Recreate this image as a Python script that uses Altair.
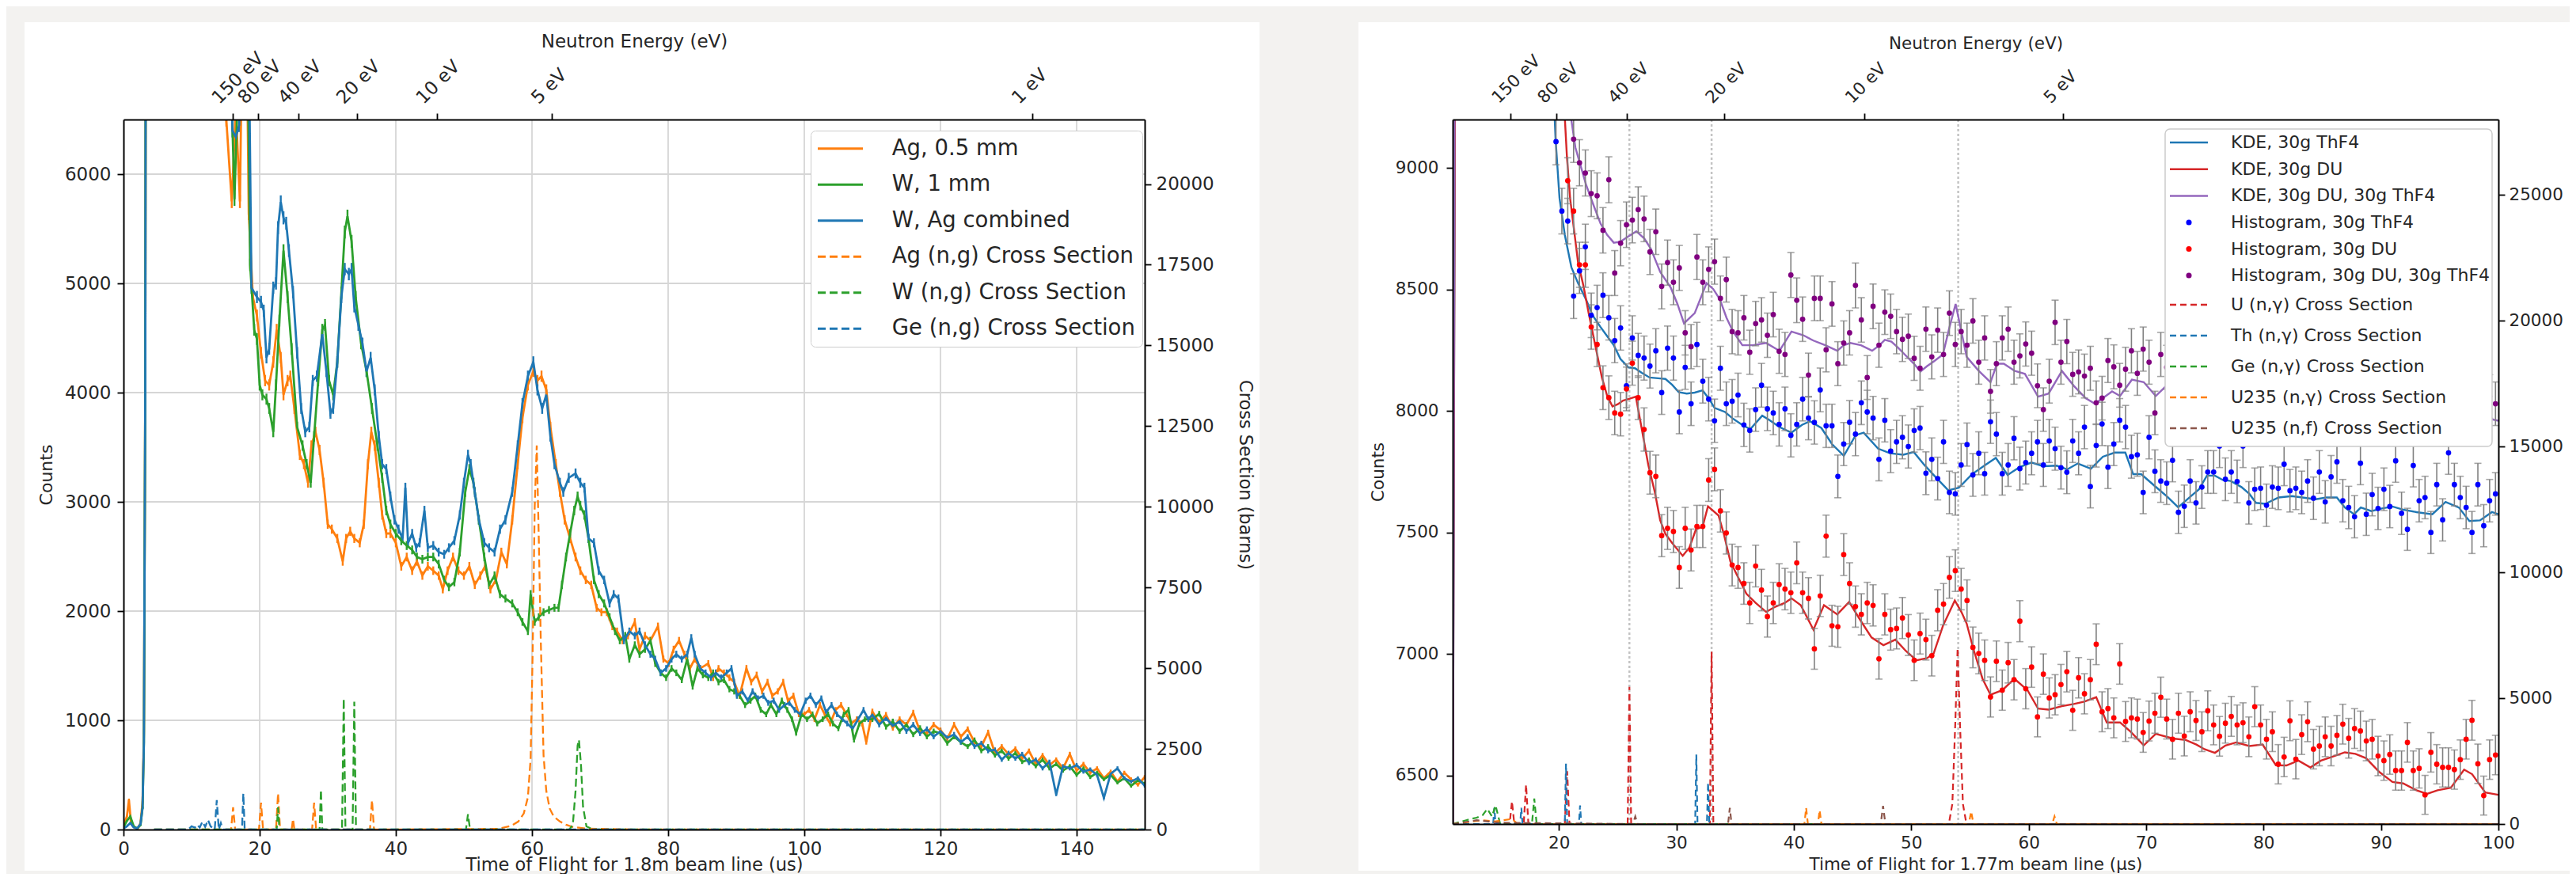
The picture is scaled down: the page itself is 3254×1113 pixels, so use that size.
import altair as alt
import pandas as pd

FONT = "DejaVu Sans"
INK = "#262626"

# ======================= LEFT PANEL DATA =======================
L_SERIES = ["Ag, 0.5 mm", "W, 1 mm", "W, Ag combined",
            "Ag (n,g) Cross Section", "W (n,g) Cross Section", "Ge (n,g) Cross Section"]
L_COLORS = ["#ff7f0e", "#2ca02c", "#1f77b4", "#ff7f0e", "#2ca02c", "#1f77b4"]
L_DASH = [[1, 0], [1, 0], [1, 0], [10, 5], [10, 5], [10, 5]]

AG_COUNTS = [(0.0, 40), (0.5, 120), (0.8, 270), (1.1, 60), (1.6, 20), (2.1, 10), (2.5, 60), (2.8, 250),
             (3.0, 900), (3.2, 4000), (3.5, 20000), (14.0, 20000), (14.5, 9000), (15.1, 6500), (15.9, 5750),
             (16.5, 6600), (17.1, 5750), (17.8, 9000), (18.4, 5640), (19.0, 4875), (19.6, 4705), (20.2, 4365),
             (20.8, 4110), (21.4, 4070), (22.0, 4280), (22.5, 4575), (23.1, 4320), (23.5, 3980), (24.1, 4110),
             (24.5, 4150), (25.1, 3855), (25.9, 3430), (26.5, 3345), (27.1, 3175), (27.6, 3515), (28.2, 3640),
             (28.8, 3475), (29.4, 3175), (30.0, 2795), (30.6, 2750), (31.4, 2665), (32.2, 2455), (32.7, 2665),
             (33.3, 2730), (33.9, 2665), (34.7, 2625), (35.3, 2795), (35.9, 3345), (36.4, 3640), (36.9, 3515),
             (37.5, 3175), (38.0, 2880), (38.6, 2710), (39.2, 2710), (40.0, 2625), (40.8, 2410), (41.6, 2495),
             (42.4, 2370), (43.1, 2455), (43.9, 2325), (44.7, 2410), (45.5, 2370), (46.3, 2325), (46.9, 2200),
             (47.6, 2370), (48.4, 2495), (49.2, 2370), (50.0, 2325), (50.8, 2410), (51.6, 2240), (52.4, 2325),
             (53.1, 2410), (53.9, 2200), (54.7, 2285), (55.5, 2540), (56.3, 2430), (57.1, 2835), (57.9, 3345),
             (58.6, 3770), (59.4, 4070), (60.2, 4195), (60.8, 4110), (61.4, 4150), (62.1, 4025), (62.7, 3685),
             (63.5, 3345), (64.1, 3090), (64.8, 2835), (65.6, 2665), (66.4, 2495), (67.1, 2370), (67.9, 2285),
             (68.7, 2240), (69.5, 2030), (70.2, 1990), (71.0, 1990), (71.8, 1860), (72.5, 1815), (73.3, 1730),
             (74.1, 1775), (75.1, 1900), (75.8, 1650), (76.6, 1775), (77.4, 1730), (78.5, 1860), (79.3, 1560),
             (80.1, 1520), (80.8, 1650), (81.6, 1730), (82.4, 1605), (83.2, 1475), (83.9, 1560), (84.7, 1475),
             (85.9, 1520), (86.6, 1390), (87.4, 1475), (88.2, 1435), (89.0, 1390), (89.7, 1350), (90.5, 1225),
             (91.5, 1475), (92.2, 1350), (93.0, 1415), (93.8, 1265), (94.6, 1350), (95.3, 1225), (96.1, 1265),
             (96.9, 1350), (97.6, 1180), (98.4, 1225), (99.2, 1055), (100.0, 1055), (100.7, 1095), (101.5, 1010),
             (102.3, 1140), (103.0, 1055), (103.8, 970), (104.6, 1095), (105.4, 1140), (106.2, 1055), (106.9, 970),
             (107.7, 1010), (108.5, 970), (109.1, 800)]

W_COUNTS = [(0.0, 20), (0.5, 80), (1.0, 120), (1.5, 30), (2.0, 10), (2.5, 40), (2.8, 200), (3.0, 800),
            (3.2, 4000), (3.5, 20000), (15.0, 20000), (15.3, 8000), (16.3, 5770), (17.4, 8000), (17.9, 9000),
            (18.6, 5170), (19.2, 4575), (19.6, 4490), (20.0, 4070), (20.4, 3980), (21.0, 3940), (21.4, 3855),
            (22.0, 3640), (22.4, 4070), (22.9, 4660), (23.5, 5300), (24.1, 4875), (24.7, 4400), (25.5, 3685),
            (26.3, 3515), (26.9, 3345), (27.5, 3175), (28.0, 3600), (28.6, 4110), (29.2, 4575), (29.6, 4620),
            (30.2, 4110), (30.8, 3980), (31.4, 4280), (32.0, 4915), (32.5, 5470), (32.9, 5615), (33.5, 5385),
            (34.1, 4875), (34.9, 4450), (35.7, 4195), (36.5, 3855), (37.3, 3515), (38.0, 3220), (38.6, 2920),
            (39.2, 2795), (40.0, 2710), (40.8, 2645), (41.6, 2600), (42.4, 2560), (43.1, 2495), (43.9, 2475),
            (44.7, 2495), (45.5, 2495), (46.3, 2430), (47.1, 2285), (47.8, 2220), (48.6, 2265), (49.4, 2540),
            (50.2, 3090), (50.8, 3300), (51.4, 3175), (52.2, 2835), (53.0, 2495), (53.7, 2240), (54.5, 2325),
            (55.3, 2155), (56.1, 2115), (57.1, 2070), (57.9, 1990), (58.6, 1900), (59.4, 1815), (59.8, 2155),
            (60.4, 1900), (61.0, 1945), (61.7, 1990), (62.5, 2010), (63.3, 2030), (63.9, 2030), (64.4, 2240),
            (65.0, 2495), (65.6, 2710), (66.2, 2920), (66.7, 3050), (67.1, 2965), (67.7, 2880), (68.3, 2665),
            (69.1, 2285), (69.8, 2155), (70.6, 2070), (71.4, 1945), (72.2, 1815), (72.9, 1730), (73.7, 1775),
            (74.3, 1560), (75.1, 1690), (75.8, 1605), (76.6, 1650), (77.4, 1730), (78.1, 1520), (78.9, 1435),
            (79.7, 1390), (80.5, 1475), (81.2, 1435), (82.0, 1370), (82.8, 1560), (83.6, 1310), (84.3, 1475),
            (85.1, 1415), (85.9, 1390), (86.6, 1435), (87.4, 1350), (88.2, 1370), (89.0, 1285), (89.7, 1265),
            (90.5, 1225), (91.3, 1140), (92.1, 1180), (92.8, 1225), (93.6, 1095), (94.4, 1055), (95.1, 1140),
            (95.9, 1055), (96.7, 1180), (97.5, 1095), (98.2, 1010), (98.8, 885), (99.6, 1055), (100.4, 1010),
            (101.2, 1055), (101.9, 970), (102.7, 1010), (103.5, 1055), (104.2, 970), (105.0, 925), (105.8, 1055),
            (106.5, 1095), (107.3, 820), (108.1, 970), (108.9, 1010)]

WAG_COUNTS = [(0.0, 10), (0.5, 30), (1.0, 60), (1.5, 20), (2.0, 10), (2.5, 50), (2.8, 200), (3.0, 800),
              (3.2, 4000), (3.5, 20000), (15.0, 20000), (15.6, 8000), (16.0, 6400), (16.5, 6340), (17.0, 6450),
              (17.5, 8500), (18.1, 9000), (18.8, 4960), (19.6, 4875), (20.2, 4830), (20.6, 4750), (21.0, 4320),
              (21.4, 4400), (22.0, 4960), (22.4, 5000), (22.7, 5510), (23.1, 5745), (23.5, 5600), (23.9, 5550),
              (24.3, 5300), (24.9, 4920), (25.5, 4365), (26.1, 3855), (26.7, 3640), (27.3, 3685), (27.8, 4110),
              (28.4, 4150), (29.2, 4535), (29.8, 4195), (30.4, 3810), (30.8, 3855), (31.4, 4280), (32.0, 4875),
              (32.5, 5130), (33.1, 5085), (33.5, 5130), (33.9, 4790), (34.5, 4620), (35.1, 4450), (35.7, 4195),
              (36.3, 4320), (36.9, 4025), (37.5, 3600), (38.0, 3345), (38.6, 3300), (39.2, 3050), (39.8, 2835),
              (40.4, 2750), (41.0, 2665), (41.4, 3130), (41.8, 2625), (42.4, 2710), (43.0, 2580), (43.5, 2625),
              (44.2, 2920), (44.7, 2580), (45.5, 2600), (46.3, 2540), (47.1, 2520), (47.8, 2580), (48.6, 2645),
              (49.4, 2880), (50.0, 3175), (50.6, 3430), (51.0, 3345), (51.6, 3090), (52.2, 2835), (53.0, 2625),
              (53.7, 2580), (54.5, 2540), (55.3, 2750), (56.1, 2835), (57.1, 3090), (57.9, 3515), (58.6, 3900),
              (59.4, 4150), (60.2, 4280), (60.8, 4025), (61.5, 3855), (62.1, 3980), (62.7, 3600), (63.3, 3345),
              (64.1, 3175), (64.6, 3090), (65.4, 3220), (66.4, 3260), (67.1, 3175), (67.7, 3130), (68.3, 2665),
              (69.1, 2625), (69.8, 2370), (70.6, 2285), (71.4, 2070), (72.0, 2155), (72.7, 2115), (73.5, 1730),
              (74.3, 1815), (75.1, 1775), (75.8, 1815), (76.6, 1690), (77.4, 1605), (78.1, 1560), (78.9, 1435),
              (79.7, 1475), (80.5, 1560), (81.2, 1605), (82.0, 1560), (82.8, 1605), (83.4, 1755), (83.9, 1605),
              (84.7, 1475), (85.5, 1435), (86.3, 1390), (87.0, 1435), (87.8, 1390), (88.6, 1435), (89.3, 1475),
              (90.1, 1225), (90.9, 1265), (91.7, 1180), (92.4, 1265), (93.2, 1200), (94.0, 1225), (94.7, 1160),
              (95.5, 1180), (96.3, 1095), (97.1, 1140), (97.8, 1160), (98.6, 1095), (99.4, 1055), (100.2, 1180),
              (100.9, 1225), (101.7, 1140), (102.5, 1200), (103.2, 1075), (104.0, 1140), (104.8, 1055),
              (105.6, 1010), (106.3, 970), (107.1, 925), (107.9, 1010), (108.7, 1095), (109.4, 1010)]

TAIL_T = list(range(110, 151))
AG_TAIL = [1080, 980, 1050, 930, 1010, 960, 1070, 900, 880, 960, 910, 830, 960, 850, 920, 800, 760, 890, 700,
           760, 690, 740, 650, 720, 600, 680, 590, 640, 560, 690, 540, 600, 520, 560, 470, 530, 440, 520, 460,
           410, 480]
W_TAIL = [1010, 1060, 940, 990, 900, 960, 870, 930, 850, 900, 880, 790, 850, 800, 760, 820, 720, 760, 680, 720,
          650, 700, 620, 640, 580, 640, 560, 600, 540, 580, 500, 560, 480, 520, 460, 500, 430, 470, 400, 450, 420]
WAG_TAIL = [1050, 960, 1020, 950, 990, 900, 960, 880, 920, 850, 900, 840, 870, 800, 850, 760, 790, 720, 730, 640,
            700, 650, 690, 610, 640, 560, 620, 320, 580, 560, 590, 530, 550, 500, 290, 510, 560, 470, 440, 470, 400]

AG_XS = [(4.5, 0), (15.8, 0), (16.1, 690), (16.4, 0), (19.9, 0), (20.2, 830), (20.5, 0), (22.4, 0), (22.7, 1120),
         (23.0, 0), (24.7, 0), (24.9, 330), (25.1, 0), (27.7, 0), (28.0, 830), (28.3, 0), (36.2, 0), (36.5, 910),
         (36.8, 0), (55.0, 20), (57.0, 120), (58.0, 250), (58.8, 500), (59.4, 1000), (59.8, 2200), (60.1, 5500),
         (60.4, 10000), (60.7, 11900), (61.0, 9000), (61.3, 5800), (61.7, 2300), (62.1, 1200), (62.6, 650),
         (63.2, 400), (64.1, 250), (65.0, 150), (66.0, 80), (68.0, 30), (75.0, 0), (150.0, 0)]
W_XS = [(4.5, 0), (22.5, 0), (22.7, 690), (22.9, 0), (28.8, 0), (29.0, 1235), (29.2, 0), (32.1, 0), (32.35, 4060),
        (32.6, 0), (33.65, 0), (33.9, 3960), (34.15, 0), (50.3, 0), (50.6, 475), (50.9, 0), (65.5, 0), (66.0, 150),
        (66.4, 1200), (66.7, 2600), (66.9, 2780), (67.2, 2000), (67.5, 700), (68.0, 100), (69.0, 0), (150.0, 0)]
GE_XS = [(4.5, 0), (9.5, 0), (10.0, 100), (10.5, 60), (10.8, 150), (11.2, 60), (11.6, 250), (12.0, 80),
         (12.4, 300), (12.8, 100), (13.4, 0), (13.7, 910), (14.0, 0), (14.3, 200), (14.6, 0), (17.4, 0),
         (17.6, 1120), (17.8, 0), (150.0, 0)]

L_XTICKS = [0, 20, 40, 60, 80, 100, 120, 140]
L_YTICKS = [0, 1000, 2000, 3000, 4000, 5000, 6000]
L_Y2TICKS = [0, 2500, 5000, 7500, 10000, 12500, 15000, 17500, 20000]
E_LABELS = ["150 eV", "80 eV", "40 eV", "20 eV", "10 eV", "5 eV", "1 eV"]
E_POS_L = [16.0, 19.8, 25.7, 34.3, 46.0, 62.9, 133.5]

# ======================= RIGHT PANEL DATA =======================
KDE_NAMES = ["KDE, 30g ThF4", "KDE, 30g DU", "KDE, 30g DU, 30g ThF4"]
KDE_COLORS = ["#1f77b4", "#d62728", "#9467bd"]
HIST_NAMES = ["Histogram, 30g ThF4", "Histogram, 30g DU", "Histogram, 30g DU, 30g ThF4"]
HIST_COLORS = ["#0000ff", "#ff0000", "#800080"]
XS_NAMES = ["U (n,γ) Cross Section", "Th (n,γ) Cross Section", "Ge (n,γ) Cross Section",
            "U235 (n,γ) Cross Section", "U235 (n,f) Cross Section"]
XS_COLORS = ["#d62728", "#1f77b4", "#2ca02c", "#ff7f0e", "#8c564b"]
XS_DASH = [[8, 5], [8, 5], [8, 5], [8, 5], [8, 5]]

HIST_T0, HIST_STEP, HIST_N = 19.75, 0.5, 161

HIST_THF4 = [9109, 8823, 8782, 8473, 8577, 8676, 8394, 8426, 8477, 8384, 8290, 8342, 8104, 8301, 8229, 8218,
             8185, 8248, 8076, 8259, 8218, 7996, 8180, 8030, 8274, 8123, 8049, 7960, 8176, 8030, 8040, 8066,
             7943, 7920, 8006, 8106, 8009, 7992, 7945, 8009, 7900, 7945, 8049, 7971, 7953, 8087,
             7939, 7939, 7731, 7864, 7954, 7905, 8034, 7996, 7971, 7801, 7962, 7835, 7873, 7892, 7854, 7920,
             7930, 7744, 7801, 7722, 7873, 7665, 7659, 7778, 7862, 7737, 7826, 7742, 7956, 7905, 7742, 7778,
             7888, 7763, 7788, 7826, 7873, 7778, 7877, 7845, 7767, 7748, 7877, 7826, 7934, 7689, 7858, 7947,
             7769, 7864, 7962, 7934, 7812, 7820, 7665, 7892, 7752, 7712, 7703, 7797, 7583, 7608,
             7712, 7622, 7687, 7749, 7749, 7856, 7719, 7749, 7710, 7856, 7622, 7678, 7682, 7612, 7687, 7682,
             7781, 7672, 7682, 7665, 7712, 7641, 7749, 7626, 7729, 7791, 7631, 7603, 7565, 7785, 7575, 7656,
             7599, 7678, 7607, 7795, 7579, 7513, 7776, 7631, 7644, 7500, 7697, 7552, 7828, 7697, 7644, 7603,
             7500, 7697, 7528, 7631, 7659]
HIST_DU = [9750, 9350,
           8948, 8823, 8602, 8602, 8346, 8274, 8096, 8055, 7992, 7987, 8091, 8197, 8055, 7924, 7746, 7731,
           7487, 7517, 7504, 7356, 7517, 7428, 7525, 7525, 7716, 7760, 7589, 7498, 7366, 7356, 7290, 7210,
           7362, 7263, 7154, 7210, 7286, 7267, 7252, 7375, 7252, 7229, 7021, 7239,
           7485, 7116, 7112, 7409, 7290, 7195, 7163, 7210, 7200, 6980, 7163, 7100, 7105, 7148, 7078, 6974,
           7084, 7059, 6993, 7180, 7205, 7315, 7343, 7267, 7220, 7027, 7002, 6974, 6823, 6970, 6851, 6964,
           6894, 7135, 6857, 6946, 6741, 6917, 6819, 6832, 6874, 6927, 6768, 6902, 6836, 6894, 7040, 6762,
           6775, 6737, 6959, 6722, 6737, 6732, 6677, 6724, 6756, 6822, 6732, 6649, 6756, 6662,
           6762, 6726, 6680, 6766, 6708, 6661, 6715, 6743, 6708, 6717, 6659, 6783, 6708, 6649, 6680, 6546,
           6576, 6725, 6567, 6668, 6721, 6608, 6621, 6659, 6621, 6665, 6711, 6653, 6693, 6683, 6642, 6649,
           6580, 6561, 6586, 6520, 6520, 6636, 6520, 6529, 6420, 6595, 6546, 6533, 6533, 6524, 6565, 6649,
           6727, 6548, 6417, 6565, 6584]
HIST_BOTH = [9600, 9450, 9300,
             9119, 9022, 8980, 8895, 8886, 8744, 8952, 8568, 8691, 8767, 8786, 8829, 8791, 8655, 8738, 8513,
             8611, 8530, 8589, 8322, 8265, 8634, 8530, 8583, 8615, 8464, 8541, 8327, 8322, 8384, 8242, 8360,
             8375, 8312, 8397, 8246, 8233, 8560, 8456, 8378, 8148, 8464, 8464,
             8252, 8441, 8195, 8280, 8322, 8517, 8375, 8138, 8431, 8271, 8407, 8390, 8327, 8295, 8308, 8217,
             8176, 8337, 8223, 8333, 8233, 8403, 8274, 8327, 8271, 8371, 8201, 8301, 8081, 8195, 8301, 8337,
             8201, 8227, 8276, 8238, 8104, 8006, 8123, 8365, 8201, 8286, 8151, 8161, 8144, 8176, 8034, 8053,
             8208, 8182, 8106, 8172, 8248, 8155, 8255, 8201, 7992, 8233,
             8180, 8120, 8210, 8090, 8150, 8230, 8060, 8140, 8110, 8190, 8050, 8130, 8170, 8080, 8120, 8060,
             8150, 8100, 8020, 8130, 8090, 8160, 8050, 8080, 8120, 8010, 8100, 8070, 8140, 8030, 8090, 8060,
             7990, 8110, 8040, 8080, 8000, 8120, 8050, 8020, 8090, 7980, 8060, 8030, 8100, 7990, 8050, 8070,
             7970, 8040, 8010, 8080, 7960, 8030, 8000, 8060, 8030]

KDE_THF4 = [(10.95, 6000), (11.3, 12000), (18.8, 10500), (19.3, 9600), (19.71, 9122), (20.05, 8876),
            (20.5, 8725), (21.06, 8592), (21.63, 8526), (22.3, 8460), (22.87, 8394), (23.54, 8346), (24.11, 8308),
            (24.67, 8271), (25.24, 8214), (25.92, 8180), (26.48, 8176), (27.05, 8157), (27.72, 8138),
            (28.62, 8134), (29.07, 8132), (29.64, 8108), (30.2, 8078), (30.88, 8072), (31.56, 8076),
            (32.23, 8085), (32.8, 8049), (33.25, 8013), (34.15, 7996), (34.83, 7968), (35.73, 7939), (36.3, 7926),
            (37.31, 7981), (37.88, 7964), (38.78, 7934), (39.8, 7911), (40.7, 7943), (41.38, 7958), (42.35, 7930),
            (43.25, 7864), (44.26, 7816), (45.27, 7901), (45.95, 7911), (47.18, 7845), (48.2, 7826),
            (49.32, 7820), (50.22, 7831), (51.12, 7778), (52.02, 7731), (53.15, 7674), (54.05, 7684),
            (55.17, 7740), (56.3, 7778), (57.2, 7807), (58.21, 7737), (59.23, 7769), (60.24, 7788), (61.25, 7773),
            (62.38, 7775), (63.28, 7760), (64.18, 7784), (65.3, 7763), (66.32, 7812), (67.33, 7829),
            (68.23, 7829), (68.9, 7740), (69.58, 7740), (70.7, 7693), (71.83, 7646), (72.73, 7604), (73.83, 7650),
            (74.5, 7678), (75.18, 7734), (75.86, 7734), (76.54, 7716), (77.21, 7712), (78.12, 7687),
            (78.79, 7659), (79.36, 7622), (80.15, 7618), (81.28, 7644), (82.41, 7650), (83.31, 7644),
            (84.44, 7637), (85.34, 7644), (86.24, 7644), (86.92, 7603), (87.71, 7575), (88.28, 7603),
            (89.18, 7588), (90.08, 7599), (90.98, 7607), (91.89, 7594), (93.02, 7584), (94.37, 7575),
            (95.5, 7626), (96.63, 7603), (97.53, 7547), (98.43, 7550), (99.45, 7584), (100.0, 7575)]
KDE_DU = [(10.95, 6000), (11.3, 12000), (19.8, 10500), (20.5, 9208), (20.68, 9047), (20.95, 8876), (21.29, 8744),
          (21.63, 8611), (22.08, 8517), (22.53, 8403), (23.09, 8271), (23.66, 8138), (24.11, 8062), (24.56, 8019),
          (25.01, 8028), (25.46, 8043), (26.03, 8051), (26.55, 8059), (27.04, 7930), (27.61, 7778), (28.17, 7665),
          (28.62, 7551), (29.07, 7494), (29.64, 7457), (30.54, 7404), (31.11, 7438), (31.67, 7513), (32.23, 7523),
          (32.69, 7608), (33.59, 7570), (34.04, 7494), (34.6, 7381), (35.17, 7324), (35.96, 7248), (36.75, 7210),
          (37.65, 7173), (38.33, 7192), (39.23, 7210), (39.8, 7229), (40.59, 7201), (41.67, 7100), (42.57, 7201),
          (43.7, 7163), (44.71, 7214), (45.72, 7135), (46.62, 7068), (47.63, 7036), (48.65, 7059), (49.55, 7012),
          (50.45, 6974), (51.35, 6983), (51.91, 7002), (52.7, 7116), (53.71, 7220), (54.27, 7173), (54.72, 7125),
          (55.29, 7021), (56.07, 6898), (56.75, 6832), (57.76, 6851), (58.78, 6898), (59.9, 6851), (60.8, 6775),
          (61.7, 6771), (62.83, 6785), (63.84, 6794), (64.74, 6804), (65.75, 6822), (66.65, 6718), (67.78, 6718),
          (68.68, 6680), (69.8, 6624), (70.82, 6671), (72.28, 6652), (73.38, 6646), (74.28, 6627), (74.96, 6608),
          (75.86, 6593), (76.76, 6623), (77.67, 6636), (78.79, 6621), (79.92, 6627), (81.05, 6542), (81.95, 6541),
          (82.97, 6561), (83.99, 6533), (84.89, 6561), (85.79, 6576), (86.92, 6595), (87.82, 6589), (88.73, 6571),
          (89.86, 6514), (90.98, 6473), (91.89, 6467), (93.02, 6439), (93.92, 6424), (94.82, 6439), (95.95, 6449),
          (97.08, 6524), (97.76, 6505), (98.88, 6430), (100.0, 6420)]
KDE_BOTH = [(10.95, 6000), (11.25, 12000), (20.5, 10000), (21.06, 9198), (21.4, 9085), (21.85, 9009),
            (22.3, 8933), (22.87, 8857), (23.54, 8772), (24.11, 8725), (24.67, 8693), (25.24, 8697), (25.8, 8715),
            (26.59, 8740), (27.27, 8710), (27.83, 8668), (28.62, 8573), (29.53, 8507), (30.09, 8441),
            (30.65, 8361), (31.56, 8403), (32.57, 8526), (33.14, 8502), (33.7, 8460), (34.27, 8384), (34.83, 8327),
            (35.62, 8271), (36.52, 8271), (37.65, 8280), (38.78, 8248), (39.8, 8327), (40.81, 8312), (41.67, 8290),
            (42.68, 8271), (43.7, 8248), (44.26, 8271), (44.82, 8280), (45.72, 8271), (46.67, 8248), (47.3, 8271),
            (47.75, 8293), (48.31, 8286), (48.87, 8261), (49.44, 8233), (50.22, 8195), (50.79, 8163),
            (51.35, 8185), (51.91, 8204), (52.7, 8233), (53.26, 8346), (53.78, 8441), (54.27, 8327), (54.72, 8223),
            (55.74, 8166), (56.75, 8119), (57.31, 8195), (57.88, 8195), (58.78, 8166), (59.68, 8153), (60.8, 8059),
            (61.7, 8072), (62.83, 8165), (63.84, 8104), (64.85, 8053), (65.64, 8030), (66.31, 8053), (67.1, 8081),
            (67.78, 8062), (68.79, 8129), (69.8, 8119), (70.82, 8062), (71.72, 8104), (73.0, 8120), (75.0, 8150),
            (77.0, 8110), (79.0, 8130), (81.0, 8090), (83.0, 8110), (85.0, 8080), (87.0, 8060), (89.0, 8070),
            (91.0, 8040), (93.0, 8050), (95.0, 8010), (97.0, 8020), (99.0, 7970), (100.0, 7960)]

U_XS = [(10.95, 0), (15.8, 0), (16.0, 900), (16.2, 0), (17.0, 0), (17.2, 1560), (17.4, 0), (20.5, 0), (20.7, 2100),
        (20.9, 0), (25.85, 0), (26.0, 5450), (26.15, 0), (32.85, 0), (33.0, 6850), (33.15, 0), (53.2, 0),
        (53.5, 800), (53.75, 4000), (53.95, 7000), (54.15, 4000), (54.4, 800), (54.7, 0), (100.0, 0)]
TH_XS = [(10.95, 0), (14.4, 0), (14.5, 640), (14.6, 0), (16.7, 0), (16.8, 640), (16.9, 0), (20.5, 0), (20.6, 2400),
         (20.7, 0), (21.7, 0), (21.8, 740), (21.9, 0), (31.6, 0), (31.7, 2760), (31.8, 0), (32.6, 0), (32.7, 1650),
         (32.8, 0), (100.0, 0)]
GE_XS_R = [(10.95, 0), (11.7, 100), (12.1, 150), (12.5, 200), (13.0, 250), (13.5, 350), (13.9, 600), (14.3, 300),
           (14.6, 740), (15.0, 0), (17.7, 0), (17.9, 1010), (18.1, 0), (100.0, 0)]
U5G_XS = [(10.95, 0), (13.5, 150), (14.5, 100), (16.0, 200), (16.5, 0), (40.9, 0), (41.05, 640), (41.2, 0),
          (42.05, 0), (42.2, 550), (42.35, 0), (54.9, 0), (55.1, 500), (55.3, 0), (62.0, 0), (62.2, 300),
          (62.4, 0), (100.0, 0)]
U5F_XS = [(10.95, 0), (13.0, 150), (14.0, 100), (15.0, 50), (26.3, 0), (26.5, 300), (26.7, 0), (34.4, 0),
          (34.55, 640), (34.7, 0), (47.4, 0), (47.6, 720), (47.8, 0), (100.0, 0)]

R_XTICKS = [20, 30, 40, 50, 60, 70, 80, 90, 100]
R_YTICKS = [6500, 7000, 7500, 8000, 8500, 9000]
R_Y2TICKS = [0, 5000, 10000, 15000, 20000, 25000]
E_POS_R = [15.9, 19.8, 25.8, 34.1, 46.0, 62.9]
VLINES_R = [26.0, 33.0, 54.0]


# ======================= helpers =======================
def long_df(named):
    rows = []
    for name, pts in named:
        for t, v in pts:
            rows.append({"series": name, "t": t, "v": v})
    return pd.DataFrame(rows)


def sc(dom):
    return alt.Scale(domain=dom, nice=False, zero=False)


def label_expr(pos, labels):
    return ("[" + ",".join(repr(l) for l in labels) + "][indexof([" +
            ",".join(str(p) for p in pos) + "], datum.value)]")


def ax(**kw):
    base = dict(labelFont=FONT, titleFont=FONT, labelColor=INK, titleColor=INK, titleFontWeight="normal",
                tickColor="black", domainColor="black", domainWidth=2, tickWidth=1.8, tickSize=8, grid=False,
                zindex=1, labelOverlap=False, labelFlush=False)
    base.update(kw)
    return alt.Axis(**base)


one = pd.DataFrame({"k": [0]})

# ======================= LEFT PANEL =======================
LW, LH = 1290, 897
LXD, LYD, LY2D = [0, 150], [0, 6500], [0, 22000]

left_counts = long_df([
    (L_SERIES[0], AG_COUNTS + list(zip(TAIL_T, AG_TAIL))),
    (L_SERIES[1], W_COUNTS + list(zip(TAIL_T, W_TAIL))),
    (L_SERIES[2], WAG_COUNTS + list(zip(TAIL_T, WAG_TAIL))),
])
left_xs = long_df([(L_SERIES[3], AG_XS), (L_SERIES[4], W_XS), (L_SERIES[5], GE_XS)])

leg_left = alt.Legend(title=None, orient="none", legendX=868, legendY=14, padding=9, fillColor="white",
                      strokeColor="#cccccc", cornerRadius=6, labelFont=FONT, labelFontSize=27.5, labelColor=INK,
                      labelLimit=1000, symbolType="M-2.85,0H2.85", symbolSize=400, symbolStrokeWidth=3,
                      symbolOffset=14.75, labelOffset=51.5, rowPadding=16.5)

panel_L = alt.Chart(one).mark_rect(color="white").encode(
    x=alt.value(-125), x2=alt.value(1435), y=alt.value(-123), y2=alt.value(949))
gridx_L = alt.Chart(pd.DataFrame({"g": L_XTICKS[1:]})).mark_rule(color="#d6d6d6", strokeWidth=1.8).encode(
    x=alt.X("g:Q", scale=sc(LXD), axis=None))
gridy_L = alt.Chart(pd.DataFrame({"g": L_YTICKS[1:]})).mark_rule(color="#d6d6d6", strokeWidth=1.8).encode(
    y=alt.Y("g:Q", scale=sc(LYD), axis=None))

# small Poisson error ticks on the count traces (drawn like matplotlib errorbar lines)
errs_L = alt.Chart(left_counts).transform_filter("datum.v < 7000").transform_calculate(
    lo="datum.v - 0.8 * sqrt(datum.v)", hi="datum.v + 0.8 * sqrt(datum.v)").mark_rule(
    clip=True, strokeWidth=2.4).encode(
    x=alt.X("t:Q", scale=sc(LXD), axis=None),
    y=alt.Y("lo:Q", scale=sc(LYD), axis=None), y2="hi:Q",
    stroke=alt.Stroke("series:N", scale=alt.Scale(domain=L_SERIES[:3], range=L_COLORS[:3]), legend=None))

counts_L = alt.Chart(left_counts).mark_line(clip=True, strokeWidth=2.8).encode(
    x=alt.X("t:Q", scale=sc(LXD), axis=ax(orient="bottom", values=L_XTICKS, format="d",
                                          title="Time of Flight for 1.8m beam line (us)", labelFontSize=23,
                                          titleFontSize=22.5, labelPadding=5, titleY=44, titleBaseline="middle")),
    y=alt.Y("v:Q", scale=sc(LYD), axis=ax(orient="left", values=L_YTICKS, format="d", title="Counts",
                                          labelFontSize=23, titleFontSize=22, labelPadding=8, titleX=-98,
                                          titleBaseline="middle")),
    color=alt.Color("series:N", scale=alt.Scale(domain=L_SERIES, range=L_COLORS), legend=leg_left),
    strokeDash=alt.StrokeDash("series:N", scale=alt.Scale(domain=L_SERIES, range=L_DASH), legend=leg_left),
)
xs_L = alt.Chart(left_xs).mark_line(clip=True, strokeWidth=2.3).encode(
    x=alt.X("t:Q", scale=sc(LXD), axis=None),
    y=alt.Y("v:Q", scale=sc(LY2D), axis=ax(orient="right", values=L_Y2TICKS, format="d",
                                           title="Cross Section (barns)", labelFontSize=23, titleFontSize=22.5,
                                           labelPadding=6, titleX=126, titleBaseline="middle")),
    color=alt.Color("series:N", scale=alt.Scale(domain=L_SERIES, range=L_COLORS), legend=leg_left),
    strokeDash=alt.StrokeDash("series:N", scale=alt.Scale(domain=L_SERIES, range=L_DASH), legend=leg_left),
)
top_L = alt.Chart(pd.DataFrame({"p": E_POS_L})).mark_point(opacity=0).encode(
    x=alt.X("p:Q", scale=sc(LXD), axis=ax(orient="top", values=E_POS_L, labelExpr=label_expr(E_POS_L, E_LABELS),
                                          title="Neutron Energy (eV)", labelFontSize=23, titleFontSize=23,
                                          labelAngle=315, labelAlign="left", labelBaseline="middle",
                                          labelPadding=16, labelOffset=-22, titleY=-99, titleBaseline="middle")))

left = alt.layer(panel_L, gridx_L, gridy_L, errs_L, counts_L, xs_L, top_L).resolve_scale(
    x="independent", y="independent").properties(width=LW, height=LH)

# ======================= RIGHT PANEL =======================
RW, RH = 1321, 890
RXD, RYD, RY2D = [10.95, 100], [6300, 9200], [0, 28000]

hist_t = [HIST_T0 + HIST_STEP * i for i in range(HIST_N)]
hist_df = long_df([(HIST_NAMES[0], list(zip(hist_t, HIST_THF4))),
                   (HIST_NAMES[1], list(zip(hist_t, HIST_DU))),
                   (HIST_NAMES[2], list(zip(hist_t, HIST_BOTH)))])
kde_df = long_df([(KDE_NAMES[0], KDE_THF4), (KDE_NAMES[1], KDE_DU), (KDE_NAMES[2], KDE_BOTH)])
xs_df = long_df([(XS_NAMES[0], U_XS), (XS_NAMES[1], TH_XS), (XS_NAMES[2], GE_XS_R),
                 (XS_NAMES[3], U5G_XS), (XS_NAMES[4], U5F_XS)])


def rleg(y, sym, size, sw, rowpad):
    return alt.Legend(title=None, orient="none", legendX=906, legendY=y, padding=0, labelFont=FONT,
                      labelFontSize=22, labelColor=INK, labelLimit=1000, symbolType=sym, symbolSize=size,
                      symbolStrokeWidth=sw, symbolOffset=13, labelOffset=42, rowPadding=rowpad)


leg_kde = rleg(18, "M-3,0H3", 256, 2.5, 11.7)
leg_hist = rleg(119, "circle", 50, 0, 11.5)
leg_xs = rleg(223, "M-3,0H3", 256, 2.5, 17)

panel_R = alt.Chart(one).mark_rect(color="white").encode(
    x=alt.value(-119), x2=alt.value(1411), y=alt.value(-123), y2=alt.value(949))
vl_R = alt.Chart(pd.DataFrame({"g": VLINES_R})).mark_rule(color="#c4c4c4", strokeWidth=2.5,
                                                          strokeDash=[3, 3]).encode(
    x=alt.X("g:Q", scale=sc(RXD), axis=None))
kde_R = alt.Chart(kde_df).mark_line(clip=True, strokeWidth=2.4).encode(
    x=alt.X("t:Q", scale=sc(RXD), axis=ax(orient="bottom", values=R_XTICKS, format="d",
                                          title="Time of Flight for 1.77m beam line (μs)", labelFontSize=21.5,
                                          titleFontSize=21.5, labelPadding=5, titleY=51, titleBaseline="middle")),
    y=alt.Y("v:Q", scale=sc(RYD), axis=None),
    stroke=alt.Stroke("series:N", scale=alt.Scale(domain=KDE_NAMES, range=KDE_COLORS), legend=leg_kde),
)
hist_base = alt.Chart(hist_df).transform_calculate(lo="datum.v - sqrt(datum.v)", hi="datum.v + sqrt(datum.v)")
err_R = hist_base.mark_rule(clip=True, color="#808080", strokeWidth=1.6).encode(
    x=alt.X("t:Q", scale=sc(RXD), axis=None),
    y=alt.Y("lo:Q", scale=sc(RYD), axis=None), y2="hi:Q")
capl_R = hist_base.mark_tick(clip=True, color="#808080", orient="horizontal", size=9, thickness=1.6).encode(
    x=alt.X("t:Q", scale=sc(RXD), axis=None), y=alt.Y("lo:Q", scale=sc(RYD), axis=None))
caph_R = hist_base.mark_tick(clip=True, color="#808080", orient="horizontal", size=9, thickness=1.6).encode(
    x=alt.X("t:Q", scale=sc(RXD), axis=None), y=alt.Y("hi:Q", scale=sc(RYD), axis=None))
pts_R = alt.Chart(hist_df).mark_circle(clip=True, size=46, opacity=1).encode(
    x=alt.X("t:Q", scale=sc(RXD), axis=None),
    y=alt.Y("v:Q", scale=sc(RYD), axis=ax(orient="left", values=R_YTICKS, format="d", title="Counts",
                                          labelFontSize=21.5, titleFontSize=21.5, labelPadding=10, titleX=-94,
                                          titleBaseline="middle")),
    fill=alt.Fill("series:N", scale=alt.Scale(domain=HIST_NAMES, range=HIST_COLORS), legend=leg_hist),
)
xs_R = alt.Chart(xs_df).mark_line(clip=True, strokeWidth=2.2).encode(
    x=alt.X("t:Q", scale=sc(RXD), axis=None),
    y=alt.Y("v:Q", scale=sc(RY2D), axis=ax(orient="right", values=R_Y2TICKS, format="d", title=None,
                                           labelFontSize=21.5, labelPadding=5)),
    color=alt.Color("series:N", scale=alt.Scale(domain=XS_NAMES, range=XS_COLORS), legend=leg_xs),
    strokeDash=alt.StrokeDash("series:N", scale=alt.Scale(domain=XS_NAMES, range=XS_DASH), legend=leg_xs),
)
legbox_R = alt.Chart(one).mark_rect(fill="white", stroke="#cccccc", strokeWidth=1.5, cornerRadius=6).encode(
    x=alt.value(900), x2=alt.value(1313), y=alt.value(12), y2=alt.value(413))
top_R = alt.Chart(pd.DataFrame({"p": E_POS_R})).mark_point(opacity=0).encode(
    x=alt.X("p:Q", scale=sc(RXD), axis=ax(orient="top", values=E_POS_R,
                                          labelExpr=label_expr(E_POS_R, E_LABELS[:6]),
                                          title="Neutron Energy (eV)", labelFontSize=21.5, titleFontSize=21.5,
                                          labelAngle=315, labelAlign="left", labelBaseline="middle",
                                          labelPadding=16, labelOffset=-20, titleY=-96, titleBaseline="middle")))

right = alt.layer(panel_R, vl_R, kde_R, err_R, capl_R, caph_R, pts_R, xs_R, legbox_R, top_R).resolve_scale(
    x="independent", y="independent").properties(width=RW, height=RH)

chart = alt.hconcat(left, right, spacing=125).resolve_scale(
    color="independent", strokeDash="independent", stroke="independent", fill="independent").resolve_legend(
    color="independent", strokeDash="independent", stroke="independent", fill="independent").properties(
    background="#f3f2f0", padding={"left": 23, "top": 20, "right": 0, "bottom": 0}
).configure(font=FONT).configure_view(strokeWidth=0)

chart.save("out.html", embed_options={"renderer": "svg", "actions": False})
